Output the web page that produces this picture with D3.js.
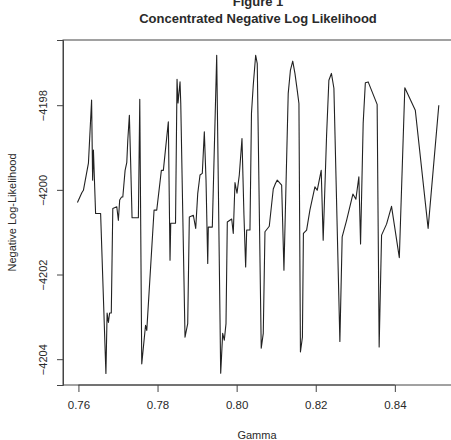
<!DOCTYPE html>
<html>
<head>
<meta charset="utf-8">
<script src="https://cdn.jsdelivr.net/npm/d3@7"></script>
<style>
  body { margin: 0; background: #fff; }
  text { font-family: "Liberation Sans", Arial, sans-serif; fill: #2a2a2a; }
</style>
</head>
<body>
<svg id="plot" width="451" height="440"></svg>
<script>
// gamma values
const gamma = [
  0.75975, 0.76086, 0.76126, 0.76253, 0.76333, 0.76359, 0.76379, 0.76434, 0.76561, 0.76695,
  0.76725, 0.76758, 0.76788, 0.76831, 0.76869, 0.76970, 0.77010, 0.77043, 0.77091, 0.77122,
  0.77180, 0.77223, 0.77248, 0.77288, 0.77319, 0.77356, 0.77516, 0.77551, 0.77601, 0.77697,
  0.77728, 0.77912, 0.77980, 0.78097, 0.78147, 0.78273, 0.78316, 0.78334, 0.78455, 0.78493,
  0.78518, 0.78569, 0.78587, 0.78695, 0.78763, 0.78804, 0.78905, 0.78965, 0.79016, 0.79074,
  0.79132, 0.79183, 0.79226, 0.79269, 0.79284, 0.79385, 0.79496, 0.79597, 0.79647, 0.79688,
  0.79731, 0.79764, 0.79875, 0.79915, 0.79958, 0.80009, 0.80067, 0.80135, 0.80185, 0.80228,
  0.80254, 0.80337, 0.80375, 0.80420, 0.80481, 0.80521, 0.80622, 0.80673, 0.80716, 0.80825,
  0.80926, 0.80981, 0.81027, 0.81138, 0.81196, 0.81304, 0.81360, 0.81418, 0.81474, 0.81532,
  0.81575, 0.81613, 0.81663, 0.81688, 0.81769, 0.81852, 0.81979, 0.82037, 0.82138, 0.82188,
  0.82274, 0.82332, 0.82396, 0.82459, 0.82610, 0.82668, 0.82780, 0.82939, 0.83015, 0.83090,
  0.83133, 0.83199, 0.83254, 0.83325, 0.83552, 0.83603, 0.83664, 0.83790, 0.83916, 0.84113,
  0.84252, 0.84517, 0.84841, 0.85111
];

// concentrated negative log likelihood at each gamma
const nll = [
  -4200.30, -4200.07, -4200.01, -4199.37, -4197.88, -4199.77, -4199.06, -4200.56, -4200.56, -4204.34,
  -4202.91, -4203.13, -4202.91, -4202.91, -4200.44, -4200.40, -4200.72, -4200.24, -4200.17, -4200.17,
  -4199.54, -4199.35, -4198.83, -4198.24, -4199.30, -4200.66, -4200.66, -4197.86, -4204.11, -4203.20,
  -4203.32, -4200.48, -4200.48, -4199.54, -4199.54, -4198.39, -4201.66, -4200.79, -4200.79, -4197.39,
  -4197.95, -4197.45, -4197.95, -4203.48, -4203.16, -4200.64, -4200.60, -4200.91, -4200.09, -4199.65,
  -4199.61, -4198.63, -4199.77, -4201.74, -4200.88, -4200.88, -4196.82, -4204.33, -4203.39, -4203.55,
  -4203.16, -4200.76, -4200.69, -4201.03, -4199.83, -4200.08, -4199.65, -4198.79, -4200.60, -4201.82,
  -4200.95, -4200.95, -4198.19, -4197.53, -4196.82, -4197.02, -4203.74, -4203.39, -4200.99, -4200.86,
  -4199.98, -4199.85, -4199.77, -4199.89, -4201.90, -4197.72, -4197.17, -4196.96, -4197.25, -4197.65,
  -4197.96, -4203.83, -4203.48, -4201.03, -4200.95, -4200.48, -4199.93, -4200.01, -4199.54, -4201.19,
  -4198.71, -4197.41, -4197.25, -4197.60, -4203.58, -4201.11, -4200.72, -4200.10, -4200.22, -4199.69,
  -4201.28, -4198.43, -4197.47, -4197.45, -4197.98, -4203.71, -4201.07, -4200.81, -4200.39, -4201.60,
  -4197.59, -4198.12, -4200.91, -4198.00
];

const xTicks = [0.76, 0.78, 0.80, 0.82, 0.84];
const yTicks = [-4204, -4202, -4200, -4198];

const plotLeft = 63, plotRight = 453, plotTop = 40, plotBottom = 385;

const svg = d3.select('#plot');

const x = d3.scaleLinear().domain([0.7561, 0.8547]).range([plotLeft, plotRight]);
const y = d3.scaleLinear().domain([-4204.61, -4196.46]).range([plotBottom, plotTop]);

const points = gamma.map((g, i) => [g, nll[i]]);

// the curve
const line = d3.line().x(d => x(d[0])).y(d => y(d[1]));
svg.append('path')
  .datum(points)
  .attr('d', line)
  .attr('fill', 'none')
  .attr('stroke', '#222')
  .attr('stroke-width', 1.1)
  .attr('stroke-linejoin', 'round');

// box
svg.append('rect')
  .attr('x', plotLeft).attr('y', plotTop)
  .attr('width', plotRight - plotLeft).attr('height', plotBottom - plotTop)
  .attr('fill', 'none')
  .attr('stroke', '#444')
  .attr('stroke-width', 1);

// x axis, R style
const xAxis = svg.append('g').attr('transform', `translate(0, ${plotBottom})`)
  .call(d3.axisBottom(x).tickValues(xTicks).tickFormat(d3.format('.2f')).tickSize(7).tickPadding(9));
xAxis.select('.domain')
  .attr('d', `M${x(xTicks[0])},0H${x(xTicks[xTicks.length - 1])}`)
  .attr('stroke', '#444');
xAxis.selectAll('.tick line').attr('stroke', '#444');
xAxis.selectAll('.tick text')
  .style('font-family', '"Liberation Sans", Arial, sans-serif')
  .style('font-size', '11.5px').attr('fill', '#2a2a2a');

// y axis, labels turned like R's default
const yAxis = svg.append('g').attr('transform', `translate(${plotLeft}, 0)`)
  .call(d3.axisLeft(y).tickValues(yTicks).tickFormat(d3.format('d')).tickSize(6).tickPadding(0));
yAxis.select('.domain').attr('stroke', '#444');
yAxis.selectAll('.tick line').attr('stroke', '#444');
yAxis.selectAll('.tick text')
  .attr('x', null).attr('dy', null)
  .attr('transform', 'translate(-19, 0) rotate(-90)')
  .attr('text-anchor', 'middle')
  .attr('dominant-baseline', 'middle')
  .style('font-family', '"Liberation Sans", Arial, sans-serif')
  .style('font-size', '11px').attr('fill', '#2a2a2a');

const cx = (plotLeft + plotRight) / 2;

svg.append('text')
  .attr('x', cx).attr('y', 6)
  .attr('text-anchor', 'middle')
  .style('font-size', '13px').style('font-weight', 'bold')
  .text('Figure 1');

svg.append('text')
  .attr('x', cx).attr('y', 23)
  .attr('text-anchor', 'middle')
  .style('font-size', '13px').style('font-weight', 'bold')
  .text('Concentrated Negative Log Likelihood');

svg.append('text')
  .attr('x', cx - 1).attr('y', 439)
  .attr('text-anchor', 'middle')
  .style('font-size', '11px')
  .text('Gamma');

svg.append('text')
  .attr('transform', `translate(16, ${(plotTop + plotBottom) / 2}) rotate(-90)`)
  .attr('text-anchor', 'middle')
  .style('font-size', '11px')
  .text('Negative Log-Likelihood');
</script>
</body>
</html>
